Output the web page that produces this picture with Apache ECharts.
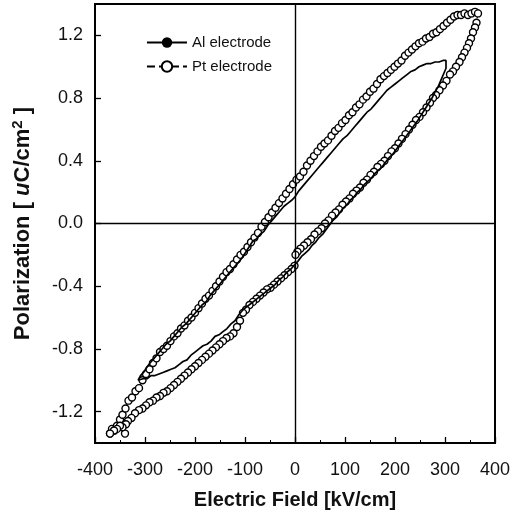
<!DOCTYPE html>
<html>
<head>
<meta charset="utf-8">
<script src="https://cdn.jsdelivr.net/npm/echarts@6/dist/echarts.min.js"></script>
<style>html,body{margin:0;padding:0;background:#fff;}#c{width:515px;height:521px;}</style>
</head>
<body>
<div id="c"></div>
<script>
// Tick labels
const xTicks = [-400, -300, -200, -100, 0, 100, 200, 300, 400];
const yTicks = [-1.2, -0.8, -0.4, 0.0, 0.4, 0.8, 1.2];
const seriesNames = ['Al electrode', 'Pt electrode'];

// Pt electrode loop [E (kV/cm), P (uC/cm2)]
const ptUpper = [
[-370,-1.34],[-366,-1.31],[-361,-1.32],[-356,-1.29],[-350,-1.25],[-345,-1.22],[-339,-1.18],[-333,-1.13],
[-326,-1.11],[-319,-1.07],[-312,-1.05],[-305,-1.00],[-298,-0.96],[-291,-0.93],[-284,-0.89],[-277,-0.86],
[-270,-0.82],[-263,-0.80],[-256,-0.78],[-249,-0.75],[-242,-0.72],[-235,-0.70],[-228,-0.67],[-221,-0.65],
[-214,-0.62],[-207,-0.60],[-200,-0.57],[-193,-0.54],[-186,-0.51],[-179,-0.48],[-172,-0.46],[-165,-0.43],
[-158,-0.40],[-151,-0.37],[-144,-0.34],[-137,-0.31],[-130,-0.29],[-123,-0.26],[-116,-0.23],[-109,-0.20],
[-102,-0.18],[-95,-0.15],[-88,-0.12],[-81,-0.09],[-74,-0.06],[-67,-0.02],[-60,0.01],[-53,0.04],
[-46,0.07],[-39,0.10],[-32,0.13],[-25,0.16],[-18,0.19],[-11,0.22],[-4,0.25],[3,0.28],
[10,0.30],[17,0.33],[24,0.37],[31,0.40],[38,0.43],[45,0.46],[52,0.49],[59,0.51],
[66,0.53],[73,0.56],[80,0.59],[87,0.61],[94,0.64],[101,0.66],[108,0.69],[115,0.71],
[122,0.74],[129,0.76],[136,0.79],[143,0.81],[150,0.84],[157,0.86],[164,0.89],[171,0.92],
[178,0.94],[185,0.96],[192,0.98],[199,1.00],[206,1.02],[213,1.04],[220,1.07],[227,1.09],
[234,1.11],[241,1.13],[248,1.15],[255,1.16],[262,1.18],[269,1.19],[276,1.21],[283,1.22],
[290,1.24],[297,1.26],[304,1.28],[311,1.30],[318,1.32],[325,1.33],[332,1.33],[339,1.34],
[346,1.33],[353,1.34],[360,1.35],[366,1.34]
];
const ptLower = [
[366,1.33],[363,1.28],[360,1.25],[356,1.22],[352,1.18],[348,1.15],[344,1.12],[339,1.09],
[334,1.06],[329,1.03],[322,1.00],[316,0.97],[310,0.95],[303,0.91],[296,0.88],[289,0.85],
[282,0.82],[276,0.80],[270,0.77],[263,0.74],[256,0.71],[249,0.68],[242,0.66],[235,0.63],
[228,0.60],[221,0.57],[214,0.54],[207,0.51],[200,0.48],[193,0.46],[186,0.43],[179,0.40],
[172,0.38],[165,0.36],[158,0.33],[151,0.31],[144,0.28],[137,0.26],[130,0.23],[123,0.21],
[116,0.19],[109,0.16],[102,0.14],[95,0.12],[88,0.09],[81,0.07],[74,0.05],[67,0.02],
[60,0.00],[53,-0.03],[46,-0.05],[39,-0.07],[32,-0.10],[25,-0.12],[18,-0.14],[11,-0.16],
[5,-0.18],[1,-0.20],[-1,-0.27],[-7,-0.29],[-14,-0.31],[-21,-0.33],[-28,-0.35],[-35,-0.37],
[-42,-0.39],[-49,-0.41],[-56,-0.42],[-63,-0.44],[-70,-0.46],[-77,-0.48],[-84,-0.50],[-91,-0.52],
[-98,-0.55],[-104,-0.57],[-110,-0.62],[-116,-0.66],[-123,-0.70],[-130,-0.72],[-137,-0.73],[-144,-0.75],
[-151,-0.77],[-158,-0.79],[-165,-0.81],[-172,-0.83],[-179,-0.85],[-186,-0.87],[-193,-0.89],[-200,-0.91],
[-207,-0.93],[-214,-0.95],[-221,-0.97],[-228,-0.99],[-235,-1.01],[-242,-1.03],[-249,-1.05],[-256,-1.07],
[-263,-1.08],[-270,-1.10],[-277,-1.11],[-284,-1.13],[-291,-1.14],[-298,-1.16],[-305,-1.18],[-312,-1.19],
[-320,-1.21],[-327,-1.24],[-334,-1.26],[-338,-1.28],[-340,-1.34],[-345,-1.30],[-350,-1.29],[-356,-1.31],
[-362,-1.32],[-370,-1.34]
];

// Al electrode loop
const alUpper = [
[-314,-1.00],[-309,-0.97],[-303,-0.95],[-297,-0.92],[-290,-0.89],[-282,-0.86],[-274,-0.83],[-266,-0.80],
[-258,-0.77],[-250,-0.75],[-242,-0.72],[-234,-0.69],[-226,-0.66],[-218,-0.64],[-210,-0.61],[-202,-0.58],
[-194,-0.55],[-186,-0.52],[-178,-0.50],[-170,-0.46],[-162,-0.43],[-154,-0.40],[-146,-0.37],[-138,-0.34],
[-130,-0.31],[-122,-0.28],[-114,-0.25],[-106,-0.22],[-98,-0.18],[-90,-0.14],[-84,-0.11],[-78,-0.10],
[-70,-0.07],[-62,-0.05],[-54,-0.01],[-46,0.02],[-38,0.05],[-30,0.08],[-22,0.11],[-14,0.13],
[-6,0.15],[0,0.17],[8,0.21],[16,0.24],[24,0.27],[32,0.30],[40,0.33],[48,0.36],
[56,0.39],[64,0.42],[72,0.45],[80,0.48],[88,0.51],[96,0.54],[104,0.56],[112,0.59],
[120,0.62],[128,0.65],[136,0.68],[144,0.71],[152,0.73],[160,0.76],[168,0.79],[176,0.82],
[184,0.85],[192,0.87],[200,0.89],[208,0.91],[216,0.93],[224,0.95],[232,0.97],[240,0.98],
[248,1.00],[256,1.01],[264,1.02],[272,1.02],[280,1.03],[288,1.03],[296,1.04],[302,1.04],[306,1.03]
];
const alLower = [
[306,1.03],[302,0.99],[298,0.96],[294,0.93],[290,0.90],[286,0.87],[280,0.84],[274,0.80],
[268,0.77],[262,0.74],[256,0.71],[250,0.68],[244,0.65],[237,0.62],[230,0.59],[223,0.56],
[216,0.53],[209,0.50],[202,0.47],[195,0.44],[188,0.42],[181,0.39],[174,0.36],[167,0.34],
[160,0.32],[153,0.29],[146,0.27],[139,0.25],[132,0.22],[125,0.20],[118,0.17],[111,0.15],
[104,0.12],[97,0.10],[90,0.07],[83,0.04],[76,0.02],[69,-0.01],[62,-0.04],[55,-0.07],
[48,-0.09],[41,-0.12],[34,-0.14],[27,-0.17],[20,-0.19],[13,-0.21],[6,-0.24],[0,-0.26],
[-8,-0.29],[-16,-0.31],[-24,-0.34],[-32,-0.36],[-40,-0.39],[-48,-0.41],[-56,-0.43],[-64,-0.45],
[-72,-0.47],[-80,-0.49],[-88,-0.51],[-96,-0.53],[-104,-0.55],[-112,-0.58],[-120,-0.62],[-128,-0.64],
[-136,-0.67],[-144,-0.69],[-152,-0.71],[-160,-0.72],[-168,-0.75],[-176,-0.77],[-184,-0.78],[-192,-0.80],
[-200,-0.82],[-208,-0.84],[-216,-0.87],[-224,-0.88],[-232,-0.90],[-240,-0.92],[-248,-0.93],[-256,-0.94],
[-264,-0.95],[-272,-0.96],[-280,-0.97],[-288,-0.97],[-296,-0.99],[-304,-0.99],[-314,-1.00]
];

const ptLoop = ptUpper.concat(ptLower.slice(1));
const alLoop = alUpper.concat(alLower.slice(1));

const chart = echarts.init(document.getElementById('c'), null, {renderer: 'canvas'});
const FONT = 'Liberation Sans, Arial, sans-serif';
chart.setOption({
  animation: false,
  backgroundColor: '#fff',
  grid: {left: 95, right: 20, top: 4, bottom: 78, show: true, borderColor: '#000', borderWidth: 2},
  legend: {
    orient: 'vertical', left: 141, top: 30, itemWidth: 40, itemHeight: 13, itemGap: 9,
    data: seriesNames,
    textStyle: {fontFamily: FONT, fontSize: 15, color: '#111'}
  },
  xAxis: {
    type: 'value', min: xTicks[0], max: xTicks[xTicks.length - 1], interval: 100,
    axisLine: {onZero: false, lineStyle: {color: '#000', width: 2}},
    axisTick: {inside: true, length: 6, lineStyle: {color: '#000', width: 1.3}},
    minorTick: {show: true, splitNumber: 2, length: 3, lineStyle: {color: '#000'}},
    splitLine: {show: false},
    axisLabel: {margin: 18, fontFamily: FONT, fontSize: 18, color: '#111'},
    name: 'Electric Field [kV/cm]', nameLocation: 'middle', nameGap: 47,
    nameTextStyle: {fontFamily: FONT, fontSize: 20, fontWeight: 'bold', color: '#111'}
  },
  yAxis: {
    type: 'value', min: -1.4, max: 1.4,
    axisLine: {onZero: false, lineStyle: {color: '#000', width: 2}},
    axisTick: {inside: true, length: 6, customValues: yTicks, lineStyle: {color: '#000', width: 1.3}},
    splitLine: {show: false},
    axisLabel: {margin: 12, customValues: yTicks, fontFamily: FONT, fontSize: 18, color: '#111',
      formatter: v => Number(v).toFixed(1)},
    name: '{b|Polarization [ }{i|u}{b|C/cm}{s|2}{b| ]}', nameLocation: 'middle', nameGap: 60,
    nameTextStyle: {fontFamily: FONT, fontSize: 22, fontWeight: 'bold', color: '#111',
      rich: {b: {fontFamily: FONT, fontSize: 22, fontWeight: 'bold', color: '#111', lineHeight: 25},
             i: {fontFamily: FONT, fontSize: 22, fontWeight: 'bold', fontStyle: 'italic', color: '#111', lineHeight: 25},
             s: {fontFamily: FONT, fontSize: 15, fontWeight: 'bold', color: '#111', verticalAlign: 'top', lineHeight: 25}}}
  },
  series: [
    {
      name: seriesNames[0], type: 'line', data: alLoop, showSymbol: false, symbol: 'circle', symbolSize: 10,
      itemStyle: {color: '#000'}, lineStyle: {color: '#000', width: 1.7}, z: 4,
      markLine: {silent: true, symbol: 'none', label: {show: false},
        lineStyle: {color: '#000', width: 1.4, type: 'solid'},
        data: [{xAxis: 0}, {yAxis: 0}]}
    },
    {
      name: seriesNames[1], type: 'line', data: ptLoop, symbol: 'circle', symbolSize: 7, showSymbol: true,
      itemStyle: {color: '#fff', borderColor: '#000', borderWidth: 1.4},
      lineStyle: {color: '#000', width: 1, type: 'dashed'}, z: 3
    }
  ]
});
</script>
</body>
</html>
